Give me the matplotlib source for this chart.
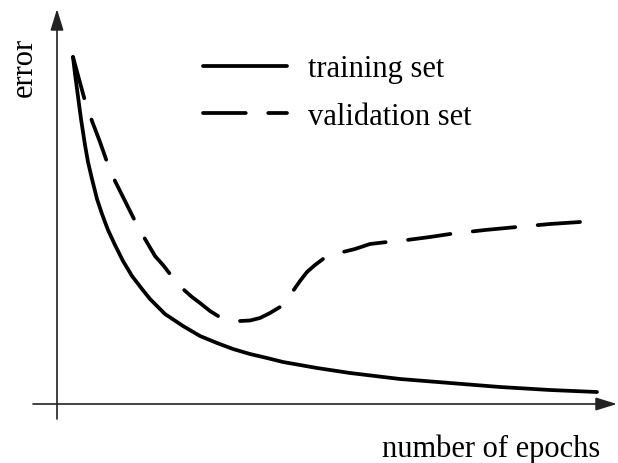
import matplotlib
matplotlib.use('Agg')
import matplotlib.pyplot as plt

# curves (arbitrary units, origin at the axes crossing)
train_x = [16, 18, 20, 22, 24, 26, 28, 31, 35, 40, 45, 51, 58, 66, 75, 85, 93, 108, 126, 143,
           160, 176, 193, 210, 226, 243, 260, 293, 343, 393, 443, 493, 540]
train_y = [347, 330, 315, 300, 285, 272, 259, 242, 225, 205, 190, 174, 159, 143, 128, 115, 105,
           90, 78, 68, 61, 55, 50, 46, 42, 39, 36, 31, 25, 21, 17, 14, 12]

valid_x = [16, 22, 28, 35, 43, 50, 58, 68, 78, 88, 98, 106, 113, 126, 135, 143, 153, 161, 172,
           183, 193, 203, 213, 223, 230, 236, 243, 250, 258, 266, 275, 286, 298, 313, 330, 350,
           373, 393, 428, 460, 493, 523]
valid_y = [347, 325, 303, 283, 262, 242, 223, 203, 183, 165, 148, 139, 130, 115, 107, 101, 93,
           88, 85, 83, 83.5, 86, 91, 97, 105, 113, 123, 132, 139, 145, 149, 152, 155, 160, 162,
           164, 167, 170, 174, 177, 180, 182]

labels = ['training set', 'validation set']

plt.rcParams['font.family'] = ['Liberation Serif', 'DejaVu Serif']

fig = plt.figure(figsize=(6.18, 4.64), dpi=100)
ax = fig.add_axes([0, 0, 1, 1])
ax.set_xlim(-57, 561)
ax.set_ylim(-59, 405)
ax.axis('off')

# axes with arrow heads
arrow = dict(arrowstyle='-|>,head_length=13,head_width=4', mutation_scale=1,
             color='#222222', lw=1.2, shrinkA=0, shrinkB=0)
ax.annotate('', xy=(0, 395), xytext=(0, -15), arrowprops=arrow)
ax.annotate('', xy=(560, 0), xytext=(-24, 0), arrowprops=arrow)

ax.plot(train_x, train_y, color='black', lw=2.7, solid_capstyle='round',
        solid_joinstyle='round', label=labels[0])
ax.plot(valid_x, valid_y, color='black', lw=2.7, dashes=(11.4, 6.0),
        dash_capstyle='round', dash_joinstyle='round', label=labels[1])

ax.legend(loc='center left', bbox_to_anchor=(203 / 618, 1 - 93.5 / 464),
          bbox_transform=fig.transFigure, frameon=False, fontsize=22,
          handlelength=2.75, handletextpad=0.7, labelspacing=0.6,
          borderpad=0, borderaxespad=0)

ax.text(600 / 618, 1 - 457 / 464, 'number of epochs', transform=fig.transFigure,
        ha='right', va='baseline', fontsize=22)
ax.text(24 / 618, 1 - 67 / 464, 'error', transform=fig.transFigure,
        ha='center', va='center', rotation=90, fontsize=22)

fig.savefig('out.png', dpi=100)
